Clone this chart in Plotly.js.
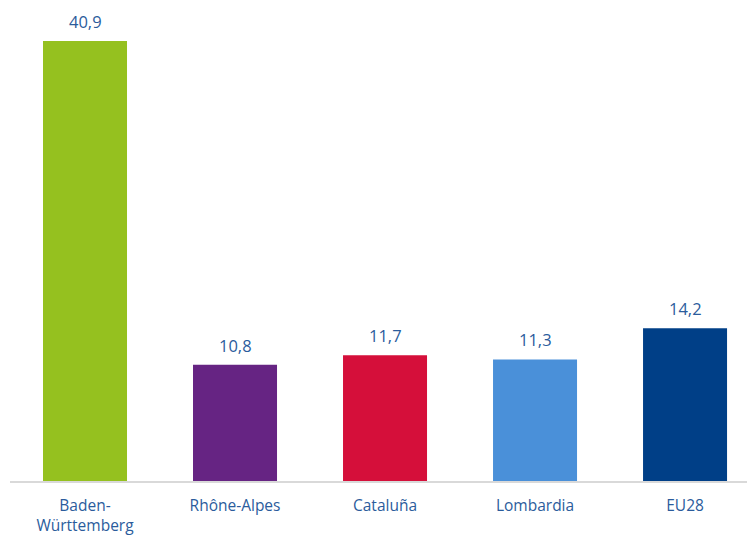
<!DOCTYPE html>
<html>
<head>
<meta charset="utf-8">
<script src="https://cdn.plot.ly/plotly-3.0.1.min.js"></script>
<style>
  html, body { margin: 0; padding: 0; background: #fff; }
  #chart { width: 747px; height: 536px; }
</style>
</head>
<body>
<div id="chart"></div>
<script>
// regions and values
var regions = ["Baden-<br>Württemberg", "Rhône-Alpes", "Cataluña", "Lombardia", "EU28"];
var values = [40.9, 10.8, 11.7, 11.3, 14.2];
var barColors = ["#95c11f", "#662483", "#d50f3a", "#4a90d9", "#003f87"];

var textBlue = "#2b5c9c";

var trace = {
    x: regions,
    y: values,
    type: "bar",
    width: 0.56,
    marker: { color: barColors },
    hoverinfo: "none"
};

// value labels above the bars
var labels = regions.map(function (r, i) {
    return {
        x: r,
        y: values[i],
        text: values[i].toFixed(1).replace(".", ","),
        showarrow: false,
        yanchor: "bottom",
        yshift: 6,
        font: { family: "Open Sans", size: 16.5, color: textBlue }
    };
});

var layout = {
    width: 747,
    height: 536,
    margin: { l: 10, r: 0, t: 10, b: 55 },
    showlegend: false,
    paper_bgcolor: "#fff",
    plot_bgcolor: "#fff",
    font: { family: "Open Sans", color: textBlue },
    annotations: labels,
    xaxis: {
        type: "category",
        range: [-0.5, 4.413],
        showline: true,
        linecolor: "#d9d9d9",
        linewidth: 2,
        ticks: "",
        ticklabelstandoff: 9,
        tickfont: { family: "Open Sans", size: 15.5, color: textBlue },
        fixedrange: true
    },
    yaxis: {
        range: [0, 43.78],
        showgrid: false,
        zeroline: false,
        showticklabels: false,
        fixedrange: true
    }
};

Plotly.newPlot("chart", [trace], layout, { displayModeBar: false, staticPlot: true });
</script>
</body>
</html>
